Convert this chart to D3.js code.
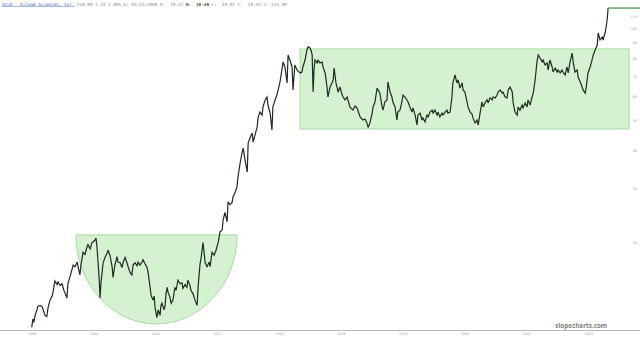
<!DOCTYPE html>
<html>
<head>
<meta charset="utf-8">
<script src="https://cdn.jsdelivr.net/npm/d3@7"></script>
<style>
  body { margin: 0; background: #fff; }
  svg { display: block; }
</style>
</head>
<body>
<div id="chart"></div>
<script>
// GILD weekly-ish closes, [year, price] (log scale)
var closes2006 = [
  [2006.00,10.5],[2006.04,11.2],[2006.07,10.9],[2006.11,11.5],[2006.17,12.0],[2006.20,12.3],[2006.27,12.4],[2006.33,12.3],[2006.37,12.0],[2006.43,11.5],
  [2006.49,11.4],[2006.53,12.2],[2006.59,12.9],[2006.66,13.3],[2006.69,13.7],[2006.75,14.9],[2006.82,14.5],[2006.85,14.8],[2006.92,14.4],[2006.98,14.6],
  [2007.04,13.9],[2007.08,13.6],[2007.14,13.1],[2007.17,14.6],[2007.24,15.4],[2007.30,16.2],[2007.34,16.8],[2007.40,16.6],[2007.47,17.2],[2007.50,16.6],
  [2007.56,15.6],[2007.59,16.7],[2007.66,18.5],[2007.72,18.2],[2007.79,19.3],[2007.82,19.6],[2007.89,19.0],[2007.95,19.9],[2007.98,20.0]
];
var closes2008 = [
  [2008.05,20.3],[2008.08,20.6],[2008.11,19.3],[2008.14,17.5],[2008.18,15.3],[2008.21,13.1],[2008.24,14.7],[2008.31,17.1],[2008.37,17.8],[2008.44,18.4],
  [2008.47,18.8],[2008.53,18.1],[2008.60,16.6],[2008.63,15.3],[2008.69,16.8],[2008.76,17.9],[2008.79,17.2],[2008.86,17.1],[2008.92,16.5],[2008.96,17.2],
  [2009.02,17.8],[2009.08,17.1],[2009.11,16.7],[2009.18,15.9],[2009.24,15.6],[2009.28,16.8],[2009.34,17.1],[2009.41,16.7],[2009.44,17.2],[2009.50,16.8],
  [2009.57,17.2],[2009.60,17.5],[2009.66,17.0],[2009.73,16.5],[2009.76,16.0],[2009.83,14.2],[2009.86,13.4],[2009.92,12.9],[2009.96,13.3],[2009.99,12.2],
  [2010.02,11.7],[2010.05,11.3],[2010.09,12.0],[2010.15,11.5],[2010.18,12.4],[2010.21,12.6],[2010.28,12.0],[2010.31,12.3],[2010.34,13.4],[2010.38,14.2],
  [2010.41,13.7],[2010.47,13.2],[2010.51,12.6],[2010.57,12.9],[2010.63,14.2],[2010.67,13.9],[2010.73,15.0],[2010.80,14.6],[2010.86,14.7],[2010.89,14.1],
  [2010.96,14.5],[2011.02,14.2],[2011.05,15.0],[2011.12,14.4],[2011.15,13.9],[2011.22,13.5],[2011.28,12.9],[2011.35,12.4],[2011.38,14.2],[2011.44,16.8],
  [2011.48,17.8],[2011.54,19.9],[2011.61,17.1],[2011.67,16.6],[2011.74,17.2],[2011.77,16.6],[2011.83,18.5],[2011.90,18.1],[2011.96,18.8]
];
var closes2012 = [
  [2012.03,19.9],[2012.09,21.6],[2012.16,21.9],[2012.19,23.6],[2012.25,25.0],[2012.32,23.3],[2012.35,27.1],[2012.41,26.5],[2012.48,26.9],[2012.51,28.1],
  [2012.58,29.1],[2012.64,30.3],[2012.67,32.6],[2012.74,36.3],[2012.80,39.1],[2012.84,40.6],[2012.90,37.1],[2012.97,33.9],
  [2013.00,42.2],[2013.06,43.8],[2013.13,45.5],[2013.16,42.5],[2013.22,44.8],[2013.29,47.6],[2013.32,51.0],[2013.38,53.3],[2013.45,52.1],[2013.48,55.4],
  [2013.55,58.4],[2013.61,59.7],[2013.64,56.2],[2013.71,52.9],[2013.77,46.6],[2013.80,55.4],[2013.87,58.4],[2013.93,60.6],[2013.97,63.0],
  [2014.03,66.9],[2014.09,73.2],[2014.13,77.8],[2014.19,74.9],[2014.26,66.4],[2014.29,82.0],[2014.35,78.9],[2014.42,74.9],[2014.45,63.0],[2014.51,76.0],
  [2014.58,73.2],[2014.68,71.6],[2014.74,72.1],[2014.77,74.9],[2014.84,78.9],[2014.90,85.1],[2014.94,87.1]
];
var closes2015 = [
  [2015.00,86.5],[2015.03,85.1],[2015.07,82.0],[2015.10,62.0],[2015.13,73.2],[2015.16,78.9],[2015.23,77.2],[2015.26,78.9],[2015.32,77.2],[2015.39,77.8],
  [2015.42,74.9],[2015.49,71.6],[2015.55,64.4],[2015.58,59.7],[2015.65,64.4],[2015.71,66.4],[2015.75,67.9],[2015.78,74.3],[2015.84,66.4],[2015.91,62.0],
  [2015.97,64.4],[2016.04,60.6],[2016.07,59.7],[2016.13,58.4],[2016.20,59.7],[2016.29,55.4],[2016.39,54.1],[2016.46,55.8],[2016.52,55.0],[2016.62,51.4],
  [2016.71,50.2],[2016.78,50.6],[2016.84,49.1],[2016.88,47.6],[2016.94,49.1],[2017.01,52.9],[2017.04,55.4],[2017.10,57.5],[2017.17,63.9],[2017.20,63.0],
  [2017.26,61.5],[2017.33,55.4],[2017.36,54.1],[2017.42,57.5],[2017.49,58.4],[2017.52,66.9],[2017.59,62.0],[2017.65,59.7],[2017.68,57.5],[2017.75,55.4],
  [2017.81,50.2],[2017.84,53.3],[2017.91,54.1],[2017.97,57.5],[2018.01,60.6],[2018.07,59.7],[2018.14,58.4],[2018.17,57.5],[2018.23,55.4],[2018.30,53.3],
  [2018.33,55.0],[2018.40,52.1],[2018.46,48.4],[2018.49,52.1],[2018.56,52.9],[2018.62,50.2],[2018.65,51.0],[2018.72,49.5],[2018.78,52.1],[2018.82,51.4],
  [2018.88,53.3],[2018.95,54.1],[2018.98,52.9],[2019.04,54.1],[2019.11,52.1],[2019.14,53.3],[2019.20,51.4],[2019.27,52.9],[2019.30,52.1],[2019.37,53.3],
  [2019.43,54.1],[2019.46,52.9],[2019.53,53.3],[2019.59,59.7],[2019.62,66.4],[2019.69,70.5],[2019.75,66.4],[2019.79,67.9],[2019.85,63.9],[2019.92,66.4],
  [2019.95,63.0]
];
var closes2020 = [
  [2020.01,62.0],[2020.08,57.5],[2020.11,55.4],[2020.18,53.3],[2020.24,52.5],[2020.27,51.0],[2020.34,49.1],[2020.40,50.2],[2020.44,48.4],[2020.50,52.9],
  [2020.56,57.5],[2020.60,55.4],[2020.66,57.1],[2020.73,58.4],[2020.76,57.1],[2020.82,59.3],[2020.89,58.4],[2020.92,59.7],[2020.99,59.3],
  [2021.05,60.6],[2021.08,62.0],[2021.15,63.0],[2021.21,61.5],[2021.24,62.0],[2021.31,59.7],[2021.37,59.3],[2021.41,63.0],[2021.47,64.4],[2021.54,62.0],
  [2021.57,57.1],[2021.63,53.3],[2021.70,52.1],[2021.73,55.4],[2021.79,54.1],[2021.86,56.2],[2021.89,55.0],[2021.96,57.1],
  [2022.02,55.4],[2022.05,58.4],[2022.12,56.2],[2022.18,59.7],[2022.22,61.5],[2022.28,67.9],[2022.34,77.8],[2022.38,82.0],[2022.44,80.1],[2022.51,77.8],
  [2022.54,78.9],[2022.60,76.0],[2022.67,77.2],[2022.70,73.2],[2022.76,78.9],[2022.83,74.9],[2022.86,72.1],[2022.93,74.3],[2022.99,72.1],
  [2023.02,73.2],[2023.09,71.6],[2023.15,73.2],[2023.18,72.1],[2023.25,70.5],[2023.31,74.9],[2023.35,71.6],[2023.41,77.8],[2023.48,83.2],[2023.51,77.8],
  [2023.57,72.1],[2023.64,73.2],[2023.67,69.4],[2023.74,66.9],[2023.80,64.4],[2023.83,63.0],[2023.90,61.5],[2023.93,63.9],[2023.99,71.6],
  [2024.06,74.9],[2024.12,78.9],[2024.16,82.0],[2024.22,85.1],[2024.29,88.4],[2024.32,96.8],[2024.38,91.8],[2024.45,93.9],[2024.48,91.8],[2024.55,97.5],
  [2024.61,106.7],[2024.64,116.8]
];

// axis labels
var yearTicks = [2006, 2008, 2010, 2012, 2014, 2016, 2018, 2020, 2022, 2024];
var priceTicks = [20, 30, 40, 50, 60, 70, 80, 90, 100, 110];

// drawn annotations: rectangle (range) and rounded base (cup)
var boxYears = [2014.68, 2025.32];
var boxPrices = [46.9, 85.8];
var cupYears = [2007.43, 2012.64];
var cupPrices = [21.1, 10.78];   // rim, bottom

var headTitle = "GILD - Gilead Sciences, Inc.";
var headQuote = ["110.98 1.34 1.00% D: 05/23/2008 O:  19.22 ", "H:  19.49", " L:  19.01 C:  19.45 V: 115.4M"];

var closes = closes2006.concat(closes2008, closes2012, closes2015, closes2020);

var width = 640, height = 341;
var baseY = 330;

var svg = d3.select("#chart").append("svg")
    .attr("width", width)
    .attr("height", height)
    .style("background", "#fff");

var x = d3.scaleLinear()
    .domain([yearTicks[0], yearTicks[yearTicks.length - 1]])
    .range([31.7, 588.3]);

var y = d3.scaleLog()
    .domain([20, 110])
    .range([242, 16]);

// green annotations
svg.append("rect")
    .attr("x", x(boxYears[0]))
    .attr("y", y(boxPrices[1]))
    .attr("width", x(boxYears[1]) - x(boxYears[0]))
    .attr("height", y(boxPrices[0]) - y(boxPrices[1]))
    .attr("fill", "#d6f1d2")
    .attr("stroke", "#a6dba0")
    .attr("stroke-width", 1);

var cx0 = x(cupYears[0]), cx1 = x(cupYears[1]);
var cTop = y(cupPrices[0]), cBot = y(cupPrices[1]);
svg.append("path")
    .attr("d", "M" + cx0 + "," + cTop +
               "A" + ((cx1 - cx0) / 2) + "," + (cBot - cTop) + " 0 0 0 " + cx1 + "," + cTop + "Z")
    .attr("fill", "#d6f1d2")
    .attr("stroke", "#a6dba0")
    .attr("stroke-width", 1);

// baseline + axes
svg.append("line")
    .attr("x1", 0).attr("x2", width)
    .attr("y1", baseY + 0.5).attr("y2", baseY + 0.5)
    .attr("stroke", "#b8b8b8");

var xAxis = svg.append("g")
    .attr("transform", "translate(0," + (baseY + 3) + ")")
    .call(d3.axisBottom(x).tickValues(yearTicks).tickFormat(d3.format("d")).tickSize(0));
xAxis.select(".domain").remove();
xAxis.selectAll("text")
    .attr("dy", "0.71em")
    .attr("y", 0)
    .style("font-family", "Verdana, 'DejaVu Sans', sans-serif")
    .style("font-size", "3.4px")
    .attr("fill", "#999");

var yAxis = svg.append("g")
    .attr("transform", "translate(637,0)")
    .call(d3.axisLeft(y).tickValues(priceTicks).tickFormat(d3.format("d")).tickSize(0));
yAxis.select(".domain").remove();
yAxis.selectAll("text")
    .attr("x", 0)
    .style("font-family", "Verdana, 'DejaVu Sans', sans-serif")
    .style("font-size", "3.4px")
    .attr("fill", "#999");

// price line
var line = d3.line()
    .x(function(d) { return x(d[0]); })
    .y(function(d) { return y(d[1]); });

svg.append("path")
    .datum(closes)
    .attr("d", line)
    .attr("fill", "none")
    .attr("stroke", "#1f2b1f")
    .attr("stroke-width", 1.2)
    .attr("stroke-linejoin", "miter")
    .attr("stroke-miterlimit", 3);

// last price line to the right edge
var last = closes[closes.length - 1];
svg.append("line")
    .attr("x1", x(last[0])).attr("x2", width)
    .attr("y1", y(last[1])).attr("y2", y(last[1]))
    .attr("stroke", "#3c8f3c")
    .attr("stroke-width", 1.2);

// header
var head = svg.append("text")
    .attr("x", 2)
    .attr("y", 5.5)
    .style("font-family", "'DejaVu Sans Mono', 'Liberation Mono', monospace")
    .style("font-size", "4.3px")
    .style("white-space", "pre")
    .attr("xml:space", "preserve");
head.append("tspan")
    .attr("fill", "#3b5bb5")
    .style("text-decoration", "underline")
    .text(headTitle);
head.append("tspan").attr("fill", "#888").text(" " + headQuote[0]);
head.append("tspan").attr("fill", "#444").style("font-weight", "bold").text(headQuote[1]);
head.append("tspan").attr("fill", "#888").text(headQuote[2]);

// watermark
svg.append("text")
    .attr("x", 607)
    .attr("y", 328)
    .attr("text-anchor", "end")
    .style("font-family", "'Open Sans', sans-serif")
    .style("font-weight", "bold")
    .style("font-size", "6.3px")
    .attr("fill", "#808080")
    .text("slopecharts.com");
</script>
</body>
</html>
